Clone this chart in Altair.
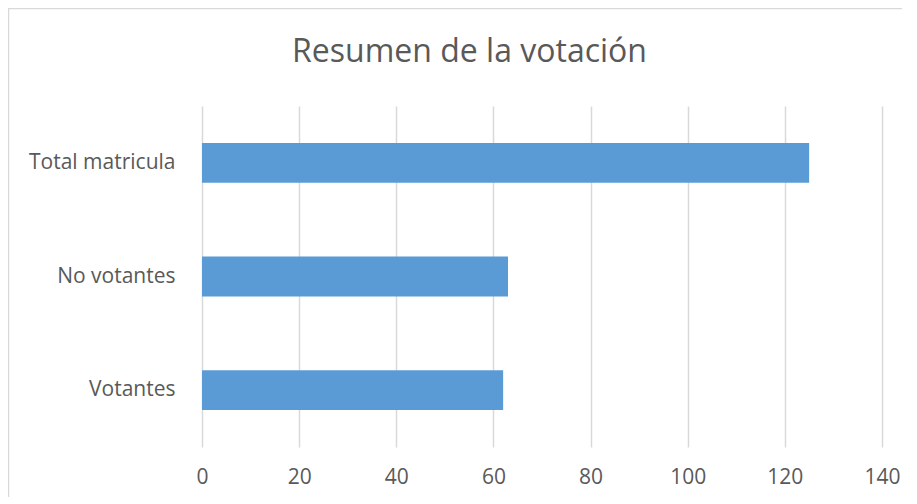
import altair as alt
import pandas as pd

title_text = "Resumen de la votación"
categories = ["Total matricula", "No votantes", "Votantes"]
values = [125, 63, 62]
x_ticks = [0, 20, 40, 60, 80, 100, 120, 140]

df = pd.DataFrame({"categoria": categories, "valor": values})

TEXT = "#595959"
GRID = "#d9d9d9"
FONT = "Open Sans"

bars = alt.Chart(df).mark_bar(color="#5B9BD5").encode(
    x=alt.X(
        "valor:Q",
        scale=alt.Scale(domain=[0, 140], nice=False),
        axis=alt.Axis(
            values=x_ticks,
            title=None,
            grid=True,
            gridColor=GRID,
            gridWidth=1.5,
            domain=False,
            ticks=False,
            tickSize=0,
            labelFlush=False,
            labelFont=FONT,
            labelFontSize=21,
            labelColor=TEXT,
            labelBaseline="alphabetic",
            labelPadding=36,
        ),
    ),
    y=alt.Y(
        "categoria:N",
        sort=categories,
        scale=alt.Scale(paddingInner=0.65, paddingOuter=0.325),
        axis=alt.Axis(
            title=None,
            domain=False,
            ticks=False,
            tickSize=0,
            grid=False,
            labelFont=FONT,
            labelFontSize=21,
            labelColor=TEXT,
            labelPadding=27,
        ),
    ),
)

border = alt.Chart(alt.Data(values=[{}])).mark_rect(
    fill="transparent", stroke=GRID, strokeWidth=1.5
).encode(
    x=alt.value(-193.5),
    x2=alt.value(900),
    y=alt.value(-97.5),
    y2=alt.value(700),
)

title = alt.Chart(alt.Data(values=[{}])).mark_text(
    font=FONT,
    fontSize=32,
    color=TEXT,
    align="center",
    baseline="alphabetic",
).encode(
    x=alt.value(267.5),
    y=alt.value(-44),
    text=alt.value(title_text),
)

chart = alt.layer(border, bars, title).properties(
    width=680,
    height=341,
    background="white",
    autosize=alt.AutoSizeParams(type="none"),
    padding={"left": 194, "top": 98, "right": 20, "bottom": 50},
).configure_view(strokeWidth=0, stroke="transparent")

chart.save("out.html", embed_options={"renderer": "svg", "actions": False})
